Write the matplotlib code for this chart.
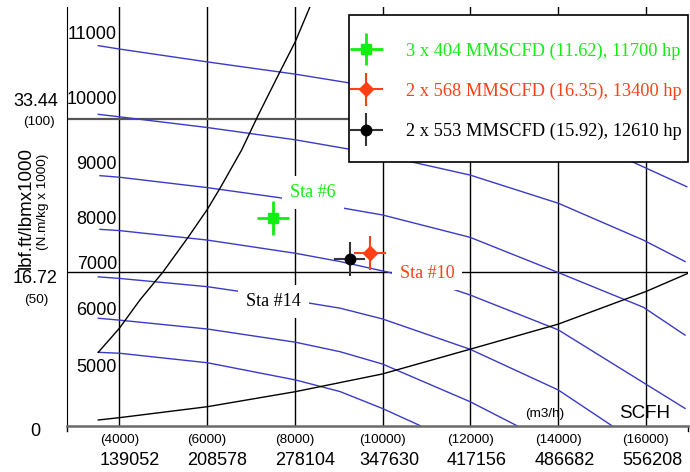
import numpy as np
import matplotlib.pyplot as plt
from matplotlib.patches import Rectangle
from matplotlib.container import ErrorbarContainer
from matplotlib.legend_handler import HandlerErrorbar

plt.rcParams['font.family'] = 'Liberation Sans'
SERIF = 'Liberation Serif'

## Kennfeld: Volumenstrom in m3/h, spez. Foerderarbeit in kN.m/kg

# Drehzahllinien (rpm)
q_11000 = [3521, 4000, 6006, 8012, 9220, 11995, 14008, 15681, 16935]
h_11000 = [123.9, 122.8, 118.6, 114.6, 111.8, 104.6, 95.8, 86.1, 77.9]
q_10000 = [3521, 4000, 6006, 8012, 9220, 10627, 11995, 14008, 15945, 16896]
h_10000 = [101.5, 100.7, 97.2, 93.2, 90.2, 86.1, 81.7, 72.5, 60.5, 53.5]
q_9000 = [3560, 4000, 6006, 7663, 8992, 9995, 11995, 14008, 15945, 16896]
h_9000 = [81.5, 81.0, 77.6, 74.3, 71.2, 68.7, 61.4, 49.9, 38.6, 29.5]
q_8000 = [3560, 4000, 6006, 8012, 9031, 10171, 11539, 11995, 14008, 16896]
h_8000 = [64.0, 63.6, 60.5, 56.2, 53.5, 49.9, 44.8, 42.6, 31.2, 5.6]
q_7000 = [3521, 4000, 6006, 6676, 8347, 9031, 9995, 11995, 14008, 15225]
h_7000 = [48.5, 48.0, 45.3, 43.9, 39.9, 38.3, 34.8, 24.9, 11.6, 0.0]
q_6000 = [3521, 4000, 6006, 8012, 9031, 9995, 11995, 13059]
h_6000 = [35.0, 34.4, 31.5, 27.2, 24.1, 20.1, 7.8, 0.0]
q_5000 = [3521, 4000, 6006, 8012, 9031, 9995, 10856]
h_5000 = [23.9, 23.6, 20.5, 14.9, 11.1, 5.6, 0.0]

speeds = [11000, 10000, 9000, 8000, 7000, 6000, 5000]
speed_q = [q_11000, q_10000, q_9000, q_8000, q_7000, q_6000, q_5000]
speed_h = [h_11000, h_10000, h_9000, h_8000, h_7000, h_6000, h_5000]

# Pumpgrenze und Stopfgrenze
q_surge = [3521, 4000, 4472, 4996, 5573, 6006, 6296, 6790, 7169, 7663, 8012, 8347]
h_surge = [23.9, 31.7, 41.0, 50.1, 61.5, 70.5, 77.4, 89.9, 101.3, 115.4, 125.2, 136.6]
q_choke = [3521, 4000, 6006, 8012, 9995, 11995, 14008, 16000, 16971]
h_choke = [1.83, 2.58, 6.16, 11.06, 16.83, 24.9, 33.1, 43.7, 49.7]

# Betriebspunkte der Stationen
sta_names = ['Sta #6', 'Sta #10', 'Sta #14']
sta_q = [7500, 9715, 9248]
sta_h = [67.8, 56.2, 54.3]
q_err = 360
h_err = 5.6
sta_labels = ['3 x 404 MMSCFD (11.62), 11700 hp',
              '2 x 568 MMSCFD (16.35), 13400 hp',
              '2 x 553 MMSCFD (15.92), 12610 hp']

# Achsen
q_ticks = [4000, 6000, 8000, 10000, 12000, 14000, 16000]
scfh_ticks = ['139052', '208578', '278104', '347630', '417156', '486682', '556208']
h_ticks = [100, 50, 0]
h_ticks_imp = ['33.44', '16.72', '0']

green = '#11ee11'
red = '#ff4015'
blue = '#3a3ac8'

fig = plt.figure(figsize=(6.9, 4.72), dpi=100)
ax = fig.add_axes([67.3 / 690, 1 - 425.6 / 472, 621 / 690, 418.9 / 472])
ax.set_xlim(2815, 16970)
ax.set_ylim(0, 136.6)

for s in ['top', 'right', 'bottom']:
    ax.spines[s].set_visible(False)
ax.spines['left'].set_color('black')
ax.set_xticks([])
ax.set_yticks([])
ax.axhline(0, color='#6a6a6a', lw=1.8, clip_on=False, zorder=3)
# kurze Striche an den Enden der x-Achse
for xe in [0, 1]:
    ax.plot([xe, xe], [0, -0.012], color='black', lw=1,
            transform=ax.transAxes, clip_on=False)

for q in q_ticks:
    ax.axvline(q, color='black', lw=1, zorder=1)
ax.axhline(100, color='#555555', lw=1.6, zorder=1)
ax.axhline(50, color='black', lw=1, zorder=1)

## Kennlinien
for n, q, h in zip(speeds, speed_q, speed_h):
    ax.plot(q, h, color=blue, lw=1, zorder=2)
label_y = [127.6, 106.4, 85.0, 67.1, 52.4, 37.5, 18.9]
for n, y in zip(speeds, label_y):
    ax.text(3950, y, str(n), fontsize=13, ha='right', va='center', zorder=3)

ax.plot(q_surge, h_surge, color='black', lw=1, zorder=2)
ax.plot(q_choke, h_choke, color='black', lw=1, zorder=2)

## Betriebspunkte
ax.errorbar(sta_q[0], sta_h[0], xerr=q_err, yerr=h_err, fmt='s', ms=7.5,
            color=green, ecolor=green, elinewidth=2, capsize=0, zorder=6,
            label=sta_labels[0])
ax.errorbar(sta_q[1], sta_h[1], xerr=q_err, yerr=h_err, fmt='D', ms=7,
            color=red, ecolor=red, elinewidth=1.5, capsize=0, zorder=6,
            label=sta_labels[1])
ax.errorbar(sta_q[2], sta_h[2], xerr=q_err, yerr=h_err, fmt='o', ms=7.5,
            color='black', ecolor='#333333', elinewidth=1.5, capsize=0, zorder=6,
            label=sta_labels[2])

box = dict(boxstyle='square', fc='white', ec='none', pad=0.45)
ax.text(8422, 76.0, sta_names[0], color=green, fontsize=13, family=SERIF,
        ha='center', va='center', bbox=box, zorder=4)
ax.text(11015, 49.7, sta_names[1], color=red, fontsize=13, family=SERIF,
        ha='center', va='center', bbox=box, zorder=4)
ax.text(7522, 40.4, sta_names[2], color='black', fontsize=13, family=SERIF,
        ha='center', va='center', bbox=box, zorder=4)

## Legende mit eigenem Rahmen
ax.add_patch(Rectangle((0.4536, 0.6293), 0.5464, 0.3509, transform=ax.transAxes,
                       fc='white', ec='black', lw=1.2, zorder=8, clip_on=False))
leg = ax.legend(loc='upper left', bbox_to_anchor=(0.4552, 0.915), frameon=False,
                borderpad=0, borderaxespad=0, handlelength=1.8, handletextpad=1.25,
                labelspacing=1.25, prop={'family': SERIF, 'size': 13.2},
                handler_map={ErrorbarContainer: HandlerErrorbar(xerr_size=0.88)})
leg.set_zorder(9)
for txt, col in zip(leg.get_texts(), [green, red, 'black']):
    txt.set_color(col)

## Achsenbeschriftung
def note(text, xy, coords, dx, dy, **kw):
    return ax.annotate(text, xy=xy, xycoords=coords, xytext=(dx, -dy),
                       textcoords='offset pixels', ha='center', va='center',
                       annotation_clip=False, **kw)

for q, s in zip(q_ticks, scfh_ticks):
    small = note('(%d)' % q, (q, 0), ('data', 'axes fraction'), 0, 13.9, fontsize=9.7)
    ax.annotate(s, xy=(0, 0.5), xycoords=small, xytext=(0, -21.2),
                textcoords='offset pixels', ha='left', va='center',
                fontsize=13, annotation_clip=False)

yc = ('axes fraction', 'data')
note(h_ticks_imp[0], (0, h_ticks[0]), yc, -31.8, -17.6, fontsize=13)
note('(%d)' % h_ticks[0], (0, h_ticks[0]), yc, -28.3, 3.4, fontsize=9.7)
note(h_ticks_imp[1], (0, h_ticks[1]), yc, -31.8, 6.0, fontsize=13)
note('(%d)' % h_ticks[1], (0, h_ticks[1]), yc, -30.8, 27.7, fontsize=9.7)
note(h_ticks_imp[2], (0, h_ticks[2]), yc, -32.3, 5.4, fontsize=13)

fig.text(26.5 / 690, 1 - 208 / 472, 'lbf.ft/lbmx1000', rotation=90, fontsize=13.5,
         ha='center', va='center')
fig.text(43 / 690, 1 - 201.7 / 472, '(N.m/kg x 1000)', rotation=90, fontsize=9.7,
         ha='center', va='center')

ax.text(13704, 3.8, '(m3/h)', fontsize=9.7, ha='center', va='center', zorder=3)
ax.text(15984, 4.0, 'SCFH', fontsize=13.5, ha='center', va='center', zorder=3)

fig.savefig('out.png', dpi=100)
